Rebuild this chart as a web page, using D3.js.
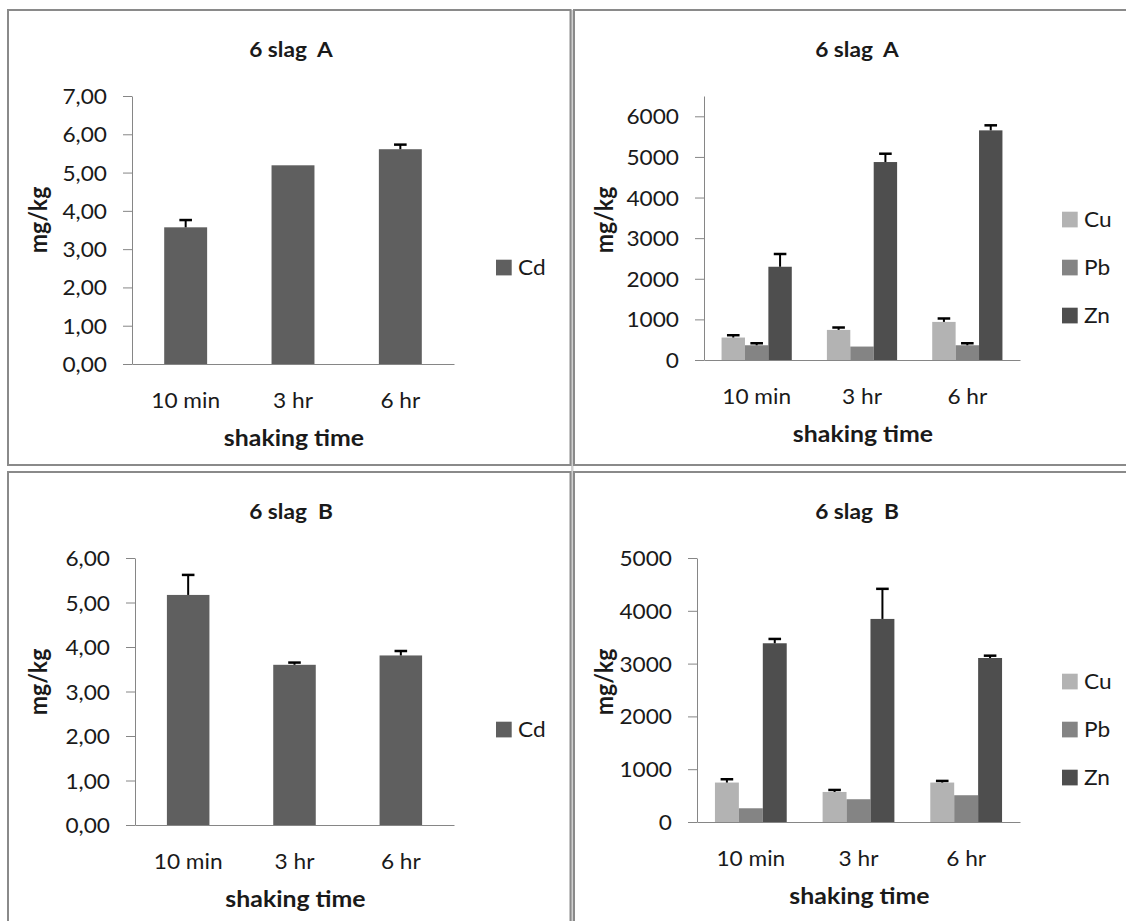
<!DOCTYPE html>
<html>
<head>
<meta charset="utf-8">
<script src="https://cdn.jsdelivr.net/npm/d3@7"></script>
<style>
  body { margin: 0; background: #fff; }
  svg { display: block; }
  text { font-family: Lato, "Open Sans", sans-serif; fill: #1a1a1a; }
</style>
</head>
<body>
<svg id="chart" width="1126" height="921"></svg>
<script>
// ---------------- DATA ----------------
const categories = ["10 min", "3 hr", "6 hr"];
const metals = ["Cu", "Pb", "Zn"];

const cdA    = [3.57, 5.19, 5.61];
const cdAErr = [0.19, 0, 0.12];
const cdB    = [5.17, 3.60, 3.81];
const cdBErr = [0.45, 0.05, 0.10];

const cuA = [553, 741, 938];    const cuAErr = [57, 59, 84];
const pbA = [363, 331, 363];    const pbAErr = [49, 0, 49];
const znA = [2296, 4874, 5654]; const znAErr = [314, 205, 124];

const cuB = [747, 569, 747];    const cuBErr = [63, 38, 31];
const pbB = [260, 431, 507];    const pbBErr = [0, 0, 0];
const znB = [3385, 3846, 3106]; const znBErr = [82, 570, 44];

const cdTicksA = [0, 1, 2, 3, 4, 5, 6, 7];
const cdTicksB = [0, 1, 2, 3, 4, 5, 6];
const metalTicksA = [0, 1000, 2000, 3000, 4000, 5000, 6000];
const metalTicksB = [0, 1000, 2000, 3000, 4000, 5000];

const titles = ["6 slag  A", "6 slag  A", "6 slag  B", "6 slag  B"];
const xTitle = "shaking time";
const yTitle = "mg/kg";

// ---------------- STYLE / LAYOUT ----------------
const SX = 1.08;                       // horizontal text stretch of the source
const colors = { Cd: "#5f5f5f", Cu: "#b3b3b3", Pb: "#848484", Zn: "#4e4e4e" };
const axisColor = "#868686";
const frameColor = "#8a8a8a";
const commaFmt = v => d3.format(".2f")(v).replace(".", ",");
const intFmt = d3.format("d");

const panels = [
  { frame: [8, 10], plot: { l: 132, r: 454, t: 96, b: 364 }, max: 7, ticks: cdTicksA, fmt: commaFmt,
    series: [{ name: "Cd", values: cdA, err: cdAErr }], title: titles[0] },
  { frame: [574, 10], plot: { l: 704, r: 1020, t: 96, b: 360 }, max: 6500, ticks: metalTicksA, fmt: intFmt,
    series: [{ name: "Cu", values: cuA, err: cuAErr }, { name: "Pb", values: pbA, err: pbAErr }, { name: "Zn", values: znA, err: znAErr }], title: titles[1] },
  { frame: [8, 472], plot: { l: 135, r: 454, t: 558, b: 825 }, max: 6, ticks: cdTicksB, fmt: commaFmt,
    series: [{ name: "Cd", values: cdB, err: cdBErr }], title: titles[2] },
  { frame: [574, 472], plot: { l: 697, r: 1020, t: 558, b: 822 }, max: 5000, ticks: metalTicksB, fmt: intFmt,
    series: [{ name: "Cu", values: cuB, err: cuBErr }, { name: "Pb", values: pbB, err: pbBErr }, { name: "Zn", values: znB, err: znBErr }], title: titles[3] }
];

const svg = d3.select("#chart");
svg.append("rect").attr("width", 1126).attr("height", 921).attr("fill", "#fff");

// light band between the two vertical frame lines
svg.append("rect").attr("x", 571).attr("y", 10).attr("width", 2.5).attr("height", 911).attr("fill", "#cfcfcf");

function stretchedText(g, x, y, str, opts) {
  const t = g.append("text")
    .attr("transform", `translate(${x},${y}) scale(${SX},1)` + (opts.rotate ? " rotate(-90)" : ""))
    .attr("text-anchor", opts.anchor || "middle")
    .attr("font-size", opts.size)
    .attr("font-weight", opts.weight || "normal")
    .style("white-space", "pre")
    .text(str);
  if (opts.dy) t.attr("dy", opts.dy);
  return t;
}

panels.forEach(p => {
  const [fx, fy] = p.frame;
  const g = svg.append("g");

  // frame
  g.append("rect")
    .attr("x", fx).attr("y", fy).attr("width", 562.5).attr("height", fy < 100 ? 455 : 470)
    .attr("fill", "none").attr("stroke", frameColor).attr("stroke-width", 2);

  const { l, r, t, b } = p.plot;
  const y = d3.scaleLinear().domain([0, p.max]).range([b, t]);
  const multi = p.series.length > 1;
  const x0 = d3.scaleBand().domain(categories).range([l, r])
    .paddingInner(multi ? 1 / 3 : 0.6).paddingOuter(multi ? 1 / 6 : 0.3);
  const x1 = d3.scaleBand().domain(p.series.map(s => s.name)).range([0, x0.bandwidth()]);

  // bars
  p.series.forEach(s => {
    const sg = g.append("g");
    sg.selectAll("rect").data(s.values).join("rect")
      .attr("x", (d, i) => x0(categories[i]) + x1(s.name))
      .attr("width", x1.bandwidth())
      .attr("y", d => y(d))
      .attr("height", d => y(0) - y(d))
      .attr("fill", colors[s.name]);
    // error bars (plus only)
    const eg = g.append("g").attr("stroke", "#000");
    s.values.forEach((v, i) => {
      const e = s.err[i];
      if (!e) return;
      const cx = x0(categories[i]) + x1(s.name) + x1.bandwidth() / 2;
      eg.append("line").attr("x1", cx).attr("x2", cx).attr("y1", y(v)).attr("y2", y(v + e)).attr("stroke-width", 2);
      eg.append("line").attr("x1", cx - 6.3).attr("x2", cx + 6.3).attr("y1", y(v + e)).attr("y2", y(v + e)).attr("stroke-width", 2.5);
    });
  });

  // y axis
  const ya = g.append("g").attr("transform", `translate(${l},0)`)
    .call(d3.axisLeft(y).tickValues(p.ticks).tickFormat(p.fmt).tickSizeInner(9).tickSizeOuter(0).tickPadding(16));
  ya.select(".domain").attr("stroke", axisColor);
  ya.selectAll(".tick line").attr("stroke", axisColor);
  ya.selectAll(".tick text")
    .attr("font-family", null).attr("font-size", 21).attr("fill", null)
    .attr("transform", `translate(-25,0) scale(${SX},1)`).attr("x", 0).attr("dy", "0.36em");

  // x axis
  const xa = g.append("g").attr("transform", `translate(0,${b})`)
    .call(d3.axisBottom(x0).tickSize(0).tickSizeOuter(0));
  xa.select(".domain").attr("stroke", axisColor);
  xa.selectAll(".tick text")
    .attr("font-family", null).attr("font-size", 21).attr("fill", null)
    .attr("y", 0).attr("dy", "0.36em")
    .attr("transform", `translate(0,36) scale(${SX},1)`);

  // titles
  const pcx = fx + 281;
  stretchedText(g, pcx + 2, fy + 46.5, p.title, { size: 21, weight: "bold" });
  stretchedText(g, (l + r) / 2 + 1, b + 81.5, xTitle, { size: 23, weight: "bold" });
  stretchedText(g, fx + 30, fy + 210, yTitle, { size: 23, weight: "bold", rotate: true, dy: "0.35em" });

  // legend
  const names = p.series.map(s => s.name);
  const ly0 = names.length > 1 ? fy + 209.5 : fy + 257.5;
  names.forEach((n, i) => {
    const cy = ly0 + i * 48;
    g.append("rect").attr("x", fx + 488).attr("y", cy - 7.8).attr("width", 15.7).attr("height", 15.7).attr("fill", colors[n]);
    stretchedText(g, fx + 510, cy, n, { size: 21, anchor: "start", dy: "0.36em" });
  });
});
</script>
</body>
</html>
